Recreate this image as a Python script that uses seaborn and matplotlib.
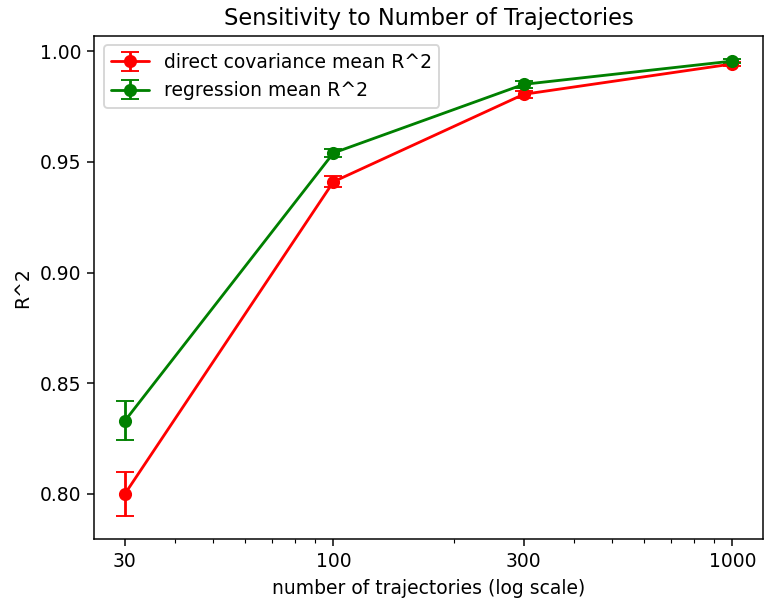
import matplotlib
matplotlib.use("Agg")
import matplotlib.pyplot as plt
import seaborn as sns
import numpy as np
import pandas as pd
from matplotlib.ticker import NullFormatter, FixedLocator, FixedFormatter

n_traj = [30, 100, 300, 1000]
direct_mean = [0.800, 0.941, 0.9805, 0.9942]
direct_err = [0.010, 0.0025, 0.0015, 0.001]
regr_mean = [0.833, 0.954, 0.985, 0.9955]
regr_err = [0.0088, 0.002, 0.0015, 0.001]
tick_vals = [30, 100, 300, 1000]
tick_labels = ["30", "100", "300", "1000"]

sns.set_style("ticks", {"axes.edgecolor": "black", "xtick.color": "black",
                        "ytick.color": "black", "xtick.direction": "out",
                        "ytick.direction": "out", "text.color": "black",
                        "axes.labelcolor": "black"})
plt.rcParams["font.family"] = ["DejaVu Sans"]

DPI = 135
fig, ax = plt.subplots(figsize=(765 / DPI, 600 / DPI), dpi=DPI)
fig.subplots_adjust(left=0.1235, right=0.997, top=0.94, bottom=0.1017)

df = pd.DataFrame({"n": n_traj * 2,
                   "r2": direct_mean + regr_mean,
                   "err": direct_err + regr_err,
                   "method": ["direct covariance mean R^2"] * 4 + ["regression mean R^2"] * 4})
colors = {"direct covariance mean R^2": "red", "regression mean R^2": "green"}
for method, sub in df.groupby("method", sort=False):
    ax.errorbar(sub["n"], sub["r2"], yerr=sub["err"], fmt="o-", color=colors[method],
                capsize=5, markersize=6, linewidth=1.5, label=method)

ax.set_xscale("log")
ax.xaxis.set_major_locator(FixedLocator(tick_vals))
ax.xaxis.set_major_formatter(FixedFormatter(tick_labels))
ax.xaxis.set_minor_formatter(NullFormatter())
ax.set_xlabel("number of trajectories (log scale)", fontsize=10)
ax.set_ylabel("R^2", fontsize=10)
ax.set_title("Sensitivity to Number of Trajectories", fontsize=12)
ax.tick_params(labelsize=10)
ax.legend(loc="upper left", fontsize=10)
fig.savefig("out.png", dpi=DPI)
